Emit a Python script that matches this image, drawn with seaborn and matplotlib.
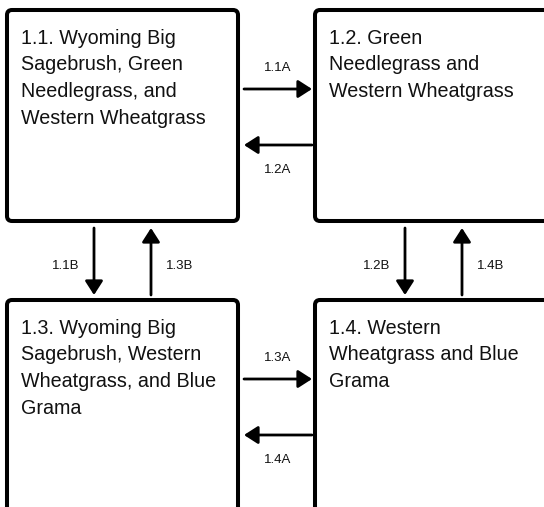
import matplotlib
matplotlib.use("Agg")
import matplotlib.pyplot as plt
from matplotlib.patches import FancyBboxPatch
import seaborn as sns

sns.set_theme(style="white")
plt.rcParams['font.family'] = ['Liberation Sans', 'DejaVu Sans']

# States (community phases)
state_labels = [
    "1.1. Wyoming Big\nSagebrush, Green\nNeedlegrass, and\nWestern Wheatgrass",
    "1.2. Green\nNeedlegrass and\nWestern Wheatgrass",
    "1.3. Wyoming Big\nSagebrush, Western\nWheatgrass, and Blue\nGrama",
    "1.4. Western\nWheatgrass and Blue\nGrama",
]
# Transitions (label, from state, to state)
transition_labels = ["1.1A", "1.2A", "1.1B", "1.3B", "1.2B", "1.4B", "1.3A", "1.4A"]
transition_from = [0, 1, 0, 2, 1, 3, 2, 3]
transition_to = [1, 0, 2, 0, 3, 1, 3, 2]

W, H = 544, 507
fig = plt.figure(figsize=(W / 100, H / 100), dpi=100)
ax = fig.add_axes([0, 0, 1, 1])
ax.set_xlim(0, W)
ax.set_ylim(H, 0)
ax.axis("off")

# box geometry: (left, top, width, height) in pixels
box_left = [7, 315, 7, 315]
box_top = [10, 10, 300, 300]
box_w = [231, 260, 231, 260]
box_h = [211, 211, 240, 240]

for i, lab in enumerate(state_labels):
    ax.add_patch(FancyBboxPatch((box_left[i], box_top[i]), box_w[i], box_h[i],
                                boxstyle="round,pad=0,rounding_size=5",
                                fc="white", ec="black", lw=2.9, zorder=2))
    ax.text(box_left[i] + 14, box_top[i] + 19, lab, ha="left", va="top",
            fontsize=14.2, linespacing=1.50, color="#111111", zorder=3)

astyle = "-|>,head_length=0.7,head_width=0.45"
for k, lab in enumerate(transition_labels):
    a, b = transition_from[k], transition_to[k]
    ra, ca = divmod(a, 2)
    rb, cb = divmod(b, 2)
    if ra == rb:
        # horizontal transition
        y = (89 if ra == 0 else 379) + (0 if ca < cb else 56)
        x0, x1 = (244, 312) if ca < cb else (312, 244)
        ax.annotate("", xy=(x1, y), xytext=(x0, y),
                    arrowprops=dict(arrowstyle=astyle, lw=2.0, color="black",
                                    mutation_scale=12, shrinkA=0, shrinkB=0))
        ly = y - 21 if ca < cb else y + 25
        ax.text(278, ly, lab, ha="center", va="center", fontsize=9.5, color="#111111")
    else:
        # vertical transition
        xbase = 94 if ca == 0 else 405
        x = xbase + (0 if ra < rb else 57)
        y0, y1 = (228, 295) if ra < rb else (295, 228)
        ax.annotate("", xy=(x, y1), xytext=(x, y0),
                    arrowprops=dict(arrowstyle=astyle, lw=2.0, color="black",
                                    mutation_scale=12, shrinkA=0, shrinkB=0))
        lx = x - 28 if ra < rb else x + 29
        ax.text(lx, 266, lab, ha="center", va="center", fontsize=9.5, color="#111111")

fig.savefig("out.png", dpi=100, facecolor="white")
